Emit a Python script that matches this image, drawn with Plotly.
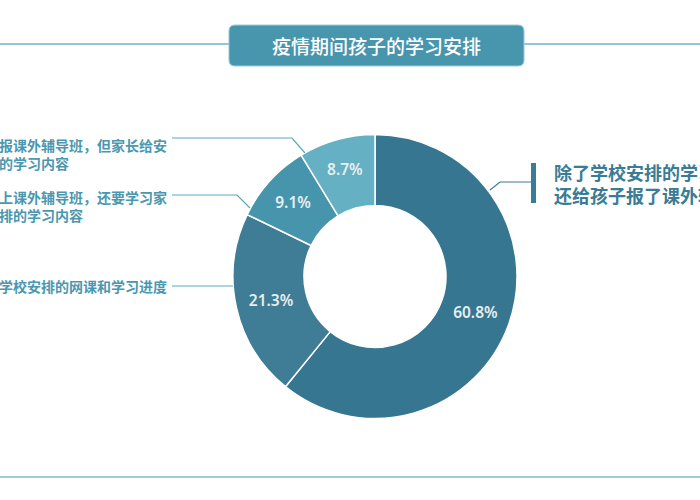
import plotly.graph_objects as go

# data
categories = [
    "除了学校安排的学习内容，还给孩子报了课外辅导班",
    "跟着学校安排的网课和学习进度",
    "除了上课外辅导班，还要学习家长安排的学习内容",
    "没报课外辅导班，但家长给安排的学习内容",
]
shares = [60.8, 21.3, 9.1, 8.7]
slice_colors = ["#367690", "#3e7d95", "#4795ad", "#66b0c4"]

W, H = 700, 500
CJK = "Noto Sans CJK SC"


def px(x, y):
    return x / W, 1 - y / H


# donut geometry (pixels)
cx, cy, R = 375, 276.5, 142

fig = go.Figure()
fig.add_trace(go.Pie(
    labels=categories,
    values=shares,
    hole=0.5,
    sort=False,
    direction="clockwise",
    rotation=0,
    marker=dict(colors=slice_colors, line=dict(color="white", width=1.5)),
    texttemplate="%{value:.1f}%",
    textposition="inside",
    insidetextorientation="horizontal",
    textfont=dict(family="Noto Sans", size=15.5, color="#e6eef1", weight=600),
    showlegend=False,
    hoverinfo="label+value",
    domain=dict(x=[(cx - R) / W, (cx + R) / W], y=[1 - (cy + R) / H, 1 - (cy - R) / H]),
))

shapes = []
annotations = []


def line(points, color, width):
    path = "M " + " L ".join("%.4f,%.4f" % px(x, y) for x, y in points)
    shapes.append(dict(type="path", path=path, xref="paper", yref="paper",
                       line=dict(color=color, width=width)))


# title band lines
line([(0, 44), (229, 44)], "#92c6d5", 2)
line([(524, 44), (700, 44)], "#92c6d5", 2)
line([(0, 477), (700, 477)], "#9ccbd8", 2)

# title box with rounded corners
x0, y0, x1, y1, r = 229, 25, 524, 66, 6
pts = [
    ("M", (x0 + r, y0)), ("L", (x1 - r, y0)), ("Q", (x1, y0), (x1, y0 + r)),
    ("L", (x1, y1 - r)), ("Q", (x1, y1), (x1 - r, y1)),
    ("L", (x0 + r, y1)), ("Q", (x0, y1), (x0, y1 - r)),
    ("L", (x0, y0 + r)), ("Q", (x0, y0), (x0 + r, y0)),
]
path = ""
for p in pts:
    path += p[0] + " " + " ".join("%.4f,%.4f" % px(*q) for q in p[1:]) + " "
shapes.append(dict(type="path", path=path + "Z", xref="paper", yref="paper",
                   fillcolor="#4895ae", line=dict(color="#9ccbd8", width=1)))

# leader lines
lead_light = "#5aa7be"
line([(172, 138), (292, 138), (305, 153)], lead_light, 1.2)
line([(172, 195), (237, 195), (250, 208)], lead_light, 1.2)
line([(172, 286), (233, 286)], lead_light, 1.2)
line([(490, 190), (500, 182), (531, 182)], "#3a7b95", 1.2)
shapes.append(dict(type="rect", xref="paper", yref="paper",
                   x0=531 / W, x1=536 / W, y0=1 - 203 / H, y1=1 - 163 / H,
                   fillcolor="#3a7b95", line=dict(width=0)))

# labels
ax, ay = px(552, 183)
annotations.append(dict(x=ax, y=ay, xref="paper", yref="paper", showarrow=False,
                        xanchor="left", yanchor="middle", align="left",
                        text="除了学校安排的学习内容，<br>还给孩子报了课外辅导班",
                        font=dict(family=CJK, size=18, color="#3a7b95", weight=700)))

side_labels = [
    ("跟着学校安排的网课和学习进度", -31, 286),
    ("除了上课外辅导班，还要学习家<br>长安排的学习内容", -31, 206),
    ("没报课外辅导班，但家长给安<br>排的学习内容", -17, 154),
]
for txt, lx, ly in side_labels:
    ax, ay = px(lx, ly)
    annotations.append(dict(x=ax, y=ay, xref="paper", yref="paper", showarrow=False,
                            xanchor="left", yanchor="middle", align="left", text=txt,
                            font=dict(family=CJK, size=14, color="#4a98b0", weight=600)))

tx, ty = px(376, 45.5)
annotations.append(dict(x=tx, y=ty, xref="paper", yref="paper", showarrow=False,
                        xanchor="center", yanchor="middle",
                        text="疫情期间孩子的学习安排",
                        font=dict(family=CJK, size=19, color="white", weight=500)))

fig.update_layout(
    width=W, height=H,
    margin=dict(l=0, r=0, t=0, b=0),
    paper_bgcolor="white",
    plot_bgcolor="white",
    shapes=shapes,
    annotations=annotations,
)
fig.write_html("out.html", config={"displayModeBar": False},
               post_script="document.body.style.margin='0';")
